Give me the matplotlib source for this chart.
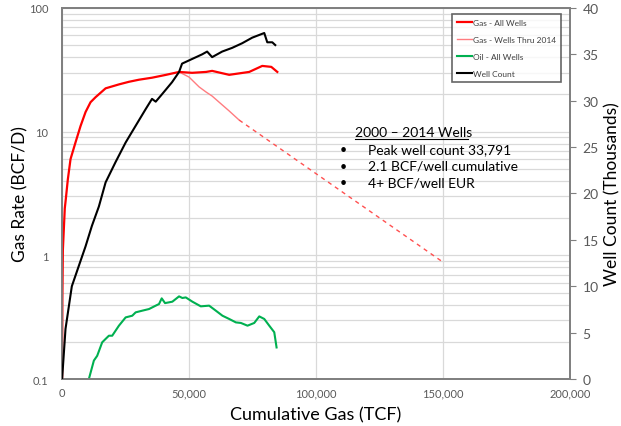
import matplotlib.pyplot as plt
import matplotlib.ticker as mticker

plt.rcParams['font.family'] = ['Lato', 'DejaVu Sans']

# Gas - All Wells (BCF/D vs cumulative TCF)
gas_all_x = [0, 100, 300, 1060, 1460, 2250, 3320, 5290, 7260, 9230, 11200, 13180, 17130,
             22370, 26320, 30270, 35400, 40920, 46050, 51180, 56700, 59070, 65780, 73670,
             78800, 82360, 84730]
gas_all_y = [0.1, 0.44, 1.1, 2.4, 2.85, 4.1, 6.0, 8.2, 11.1, 14.4, 17.3, 19.0, 22.4,
             24.1, 25.3, 26.3, 27.3, 28.8, 30.4, 29.9, 30.4, 31.0, 28.8, 30.4,
             34.0, 33.4, 30.4]

# Gas - Wells Thru 2014
gas_2014_x = [46050, 50000, 53940, 56700, 59070, 61830, 65780, 69720]
gas_2014_y = [30.4, 27.6, 23.0, 20.9, 19.4, 17.3, 14.7, 12.4]
# projected decline
proj_x = [69720, 150000]
proj_y = [12.4, 0.88]

# Oil - All Wells
oil_x = [10540, 12510, 13810, 15780, 17130, 18430, 19730, 22370, 25020, 27620, 28960,
         31570, 34210, 36860, 38160, 39220, 40530, 43410, 46050, 47350, 48690, 51300,
         54610, 57890, 60530, 63140, 65780, 68420, 70400, 73000, 75650, 77620, 79590,
         81560, 83530, 84440]
oil_y = [0.1, 0.141, 0.154, 0.198, 0.211, 0.224, 0.224, 0.270, 0.315, 0.325, 0.346,
         0.357, 0.368, 0.392, 0.404, 0.449, 0.411, 0.422, 0.466, 0.452, 0.457, 0.422,
         0.387, 0.392, 0.357, 0.325, 0.306, 0.287, 0.284, 0.270, 0.284, 0.321, 0.306,
         0.270, 0.239, 0.180]

# Well Count (thousands, right axis)
wells_x = [0, 1340, 3830, 6590, 9230, 11720, 14480, 17130, 21070, 25020, 28960, 32910,
           35400, 36860, 39340, 43290, 46050, 47230, 51180, 55130, 57100, 59070, 63020,
           66960, 70910, 74860, 79590, 80780, 82750, 83930]
wells_y = [0, 5.4, 10.0, 12.2, 14.3, 16.5, 18.6, 21.2, 23.4, 25.5, 27.3, 29.1,
           30.2, 29.9, 30.7, 32.0, 33.1, 34.0, 34.5, 35.0, 35.3, 34.7, 35.3,
           35.7, 36.2, 36.8, 37.3, 36.3, 36.3, 36.0]

notes = ['Peak well count 33,791', '2.1 BCF/well cumulative', '4+ BCF/well EUR']

fig = plt.figure(figsize=(6.21, 4.27), dpi=100)
ax = fig.add_axes([0.1, 0.11, 0.818, 0.869])
ax2 = ax.twinx()

grid_c = '#d9d9d9'
tick_c = '#595959'

ax.set_yscale('log')
ax.set_ylim(0.1, 100)
ax.set_xlim(0, 200000)
ax.set_yticks([0.1, 1, 10, 100])
ax.yaxis.set_major_formatter(mticker.FuncFormatter(lambda v, p: f'{v:g}'))
ax.yaxis.set_minor_formatter(mticker.NullFormatter())
ax.set_xticks([0, 50000, 100000, 150000, 200000])
ax.xaxis.set_major_formatter(mticker.FuncFormatter(lambda v, p: f'{int(v):,}'))
ax.grid(True, which='both', axis='y', color=grid_c, lw=0.9)
ax.grid(True, which='major', axis='x', color=grid_c, lw=0.9)
ax.set_axisbelow(True)
ax.tick_params(axis='both', which='both', length=0, labelsize=8, colors=tick_c, pad=6)
ax.tick_params(axis='y', pad=10)

ax2.set_ylim(0, 40)
ax2.set_yticks(range(0, 41, 5))
ax2.tick_params(axis='y', length=4, direction='out', color='#7f7f7f', labelsize=10, colors=tick_c, pad=5)

for a in (ax, ax2):
    for s in a.spines.values():
        s.set_color('#808080')
        s.set_linewidth(1.3)

ax.plot(gas_all_x, gas_all_y, color='#ff0000', lw=1.6, label='Gas - All Wells', zorder=4)
ax.plot(gas_2014_x, gas_2014_y, color='#ff7c80', lw=1.0, label='Gas - Wells Thru 2014', zorder=3)
ax.plot(proj_x, proj_y, color='#ff5050', lw=1.0, ls=(0, (3, 3)), zorder=3)
ax.plot(oil_x, oil_y, color='#00b050', lw=1.5, label='Oil - All Wells', zorder=3)
ax2.plot(wells_x, wells_y, color='#000000', lw=1.5, label='Well Count', zorder=3)

ax.set_xlabel('Cumulative Gas (TCF)', fontsize=13, labelpad=6)
ax.set_ylabel('Gas Rate (BCF/D)', fontsize=12.5, labelpad=0)
ax2.set_ylabel('Well Count (Thousands)', fontsize=12.5, labelpad=4)

h1, l1 = ax.get_legend_handles_labels()
h2, l2 = ax2.get_legend_handles_labels()
leg = ax2.legend(h1 + h2, l1 + l2, loc='upper right', bbox_to_anchor=(0.99, 0.995),
                 fontsize=6, frameon=True, fancybox=False, handlelength=1.8,
                 handletextpad=0.05, labelspacing=1.2, borderpad=0.6)
leg.get_frame().set_edgecolor('#404040')
leg.get_frame().set_linewidth(1.2)
for t in leg.get_texts():
    t.set_color('#404040')

ax2.text(0.577, 0.667, '2000 \u2013 2014 Wells', transform=ax2.transAxes, fontsize=10,
         ha='left', va='center')
ax2.plot([0.577, 0.799], [0.647, 0.647], transform=ax2.transAxes, color='black', lw=0.8)
for i, s in enumerate(notes):
    yy = 0.62 - i * 0.045
    ax2.text(0.553, yy, '\u2022', transform=ax2.transAxes, fontsize=9, ha='center', va='center')
    ax2.text(0.603, yy, s, transform=ax2.transAxes, fontsize=10, ha='left', va='center')

fig.savefig('out.png', dpi=100)
